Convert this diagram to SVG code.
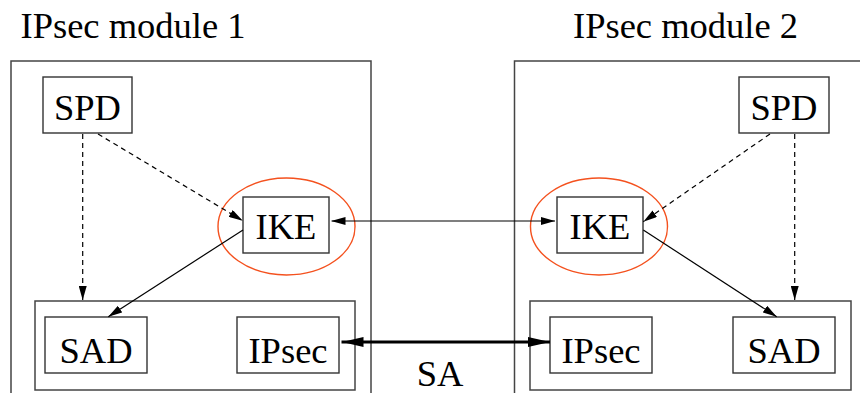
<svg xmlns="http://www.w3.org/2000/svg" width="860" height="393" viewBox="0 0 860 393">
<style>
.t{font-family:"Liberation Serif",serif;font-size:36.5px;fill:#000}
.mod{fill:none;stroke:#444;stroke-width:1.5}
.box{fill:#fff;stroke:#333;stroke-width:1.4}
.ell{fill:none;stroke:#f4511e;stroke-width:1.4}
.c{fill:none;stroke:#000;stroke-width:1.2}
.d{stroke-dasharray:5 4}
.thick{fill:none;stroke:#000;stroke-width:3}
</style>
<defs>
<marker id="ah" markerUnits="userSpaceOnUse" viewBox="0 0 14 8" refX="14" refY="4" markerWidth="14" markerHeight="8" orient="auto-start-reverse"><path d="M0,0 L14,4 L0,8 z" fill="#000"/></marker>
<marker id="ahb" markerUnits="userSpaceOnUse" viewBox="0 0 22 10" refX="22" refY="5" markerWidth="22" markerHeight="10" orient="auto-start-reverse"><path d="M0,0 L22,5 L0,10 z" fill="#000"/></marker>
</defs>
<g id="module1">
<text class="t" x="20.5" y="38" font-family="Liberation Serif, serif">IPsec module 1</text>
<rect class="mod" x="11" y="61" width="360" height="345"/>
<rect class="mod" x="35" y="301" width="320" height="89"/>
</g>
<g id="module2">
<text class="t" x="573" y="38" font-family="Liberation Serif, serif">IPsec module 2</text>
<rect class="mod" x="514.5" y="61" width="360" height="345"/>
<rect class="mod" x="530" y="301" width="321" height="89"/>
</g>
<g id="spd1"><rect class="box" x="43" y="77" width="89" height="56"/><text class="t" x="87.5" y="120" text-anchor="middle" font-family="Liberation Serif, serif">SPD</text></g>
<g id="ike1"><ellipse class="ell" cx="286.5" cy="226.5" rx="68.5" ry="48.5"/><rect class="box" x="243" y="197" width="86" height="56"/><text class="t" x="286" y="239" text-anchor="middle" font-family="Liberation Serif, serif">IKE</text></g>
<g id="sad1"><rect class="box" x="45" y="317" width="102" height="56"/><text class="t" x="96" y="363" text-anchor="middle" font-family="Liberation Serif, serif">SAD</text></g>
<g id="ipsec1"><rect class="box" x="237" y="317" width="102" height="56"/><text class="t" x="288" y="363" text-anchor="middle" font-family="Liberation Serif, serif">IPsec</text></g>
<g id="spd2"><rect class="box" x="739" y="77" width="90" height="56"/><text class="t" x="784" y="120" text-anchor="middle" font-family="Liberation Serif, serif">SPD</text></g>
<g id="ike2"><ellipse class="ell" cx="599" cy="226.5" rx="68.5" ry="48.5"/><rect class="box" x="557" y="197" width="86" height="56"/><text class="t" x="600" y="239" text-anchor="middle" font-family="Liberation Serif, serif">IKE</text></g>
<g id="ipsec2"><rect class="box" x="550" y="317" width="102" height="56"/><text class="t" x="601" y="363" text-anchor="middle" font-family="Liberation Serif, serif">IPsec</text></g>
<g id="sad2"><rect class="box" x="733" y="317" width="102" height="56"/><text class="t" x="784" y="363" text-anchor="middle" font-family="Liberation Serif, serif">SAD</text></g>
<g id="connectors">
<line class="c d" x1="82.7" y1="134" x2="82.7" y2="300" marker-end="url(#ah)"/>
<line class="c d" x1="98" y1="134" x2="242.7" y2="220.7" marker-end="url(#ah)"/>
<line class="c" x1="243" y1="230" x2="108.3" y2="316.7" marker-end="url(#ah)"/>
<line class="c d" x1="794.7" y1="134" x2="794.7" y2="300" marker-end="url(#ah)"/>
<line class="c d" x1="770" y1="134" x2="643.3" y2="221.7" marker-end="url(#ah)"/>
<line class="c" x1="643.3" y1="230" x2="776.7" y2="316.7" marker-end="url(#ah)"/>
<line class="c" x1="331.5" y1="221" x2="555" y2="221" marker-start="url(#ah)" marker-end="url(#ah)"/>
<line class="thick" x1="341.5" y1="342" x2="550" y2="342" marker-start="url(#ahb)" marker-end="url(#ahb)"/>
<text class="t" x="440" y="386" text-anchor="middle" font-family="Liberation Serif, serif">SA</text>
</g>
</svg>
